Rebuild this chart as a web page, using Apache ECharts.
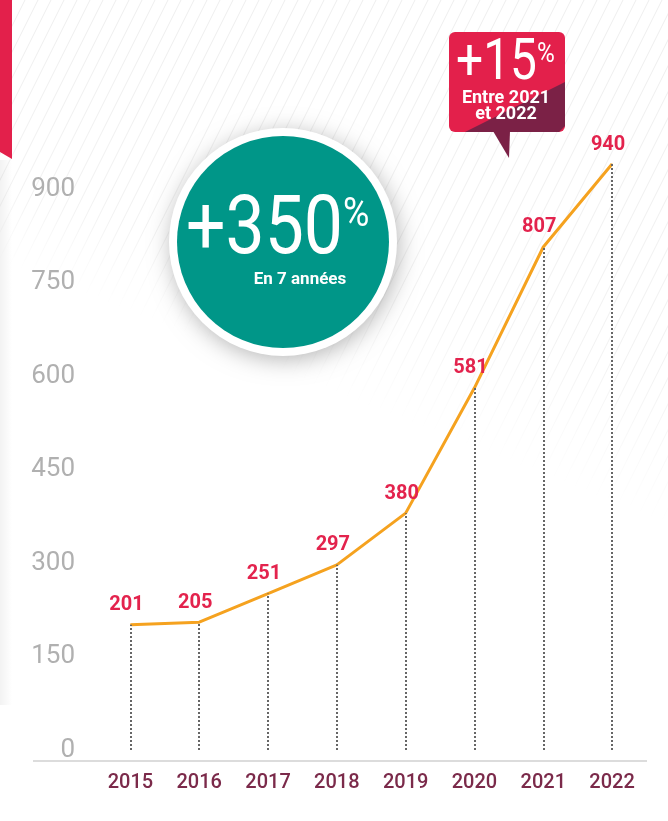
<!DOCTYPE html>
<html>
<head>
<meta charset="utf-8">
<script src="https://cdn.jsdelivr.net/npm/echarts@6/dist/echarts.min.js"></script>
<style>
  html, body { margin: 0; padding: 0; background: #ffffff; }
  #chart { width: 668px; height: 821px; }
</style>
</head>
<body>
<div id="chart"></div>
<script>
  // data
  const years = ['2015', '2016', '2017', '2018', '2019', '2020', '2021', '2022'];
  const members = [201, 205, 251, 297, 380, 581, 807, 940];
  const yTicks = [0, 150, 300, 450, 600, 750, 900];

  const dom = document.getElementById('chart');
  const myChart = echarts.init(dom);

  // diagonal hatch in the background, fading towards the lower left
  const hatch = [];
  for (let x0 = -300; x0 < 1100; x0 += 13) {
    const yb = (260 + 0.4 * x0) / 1.2;
    if (yb <= 0) continue;
    hatch.push({
      type: 'line',
      silent: true,
      z: -10,
      shape: { x1: x0, y1: 0, x2: x0 - 0.5 * yb, y2: yb },
      style: {
        lineWidth: 1,
        stroke: new echarts.graphic.LinearGradient(0, 0, 0, 1, [
          { offset: 0, color: 'rgba(0,0,0,0.07)' },
          { offset: 0.75, color: 'rgba(0,0,0,0.055)' },
          { offset: 1, color: 'rgba(0,0,0,0)' }
        ])
      }
    });
  }

  const decor = [
    // red strip top left
    {
      type: 'polygon', z: 5, silent: true,
      shape: { points: [[0, 0], [12, 0], [12, 159], [0, 152]] },
      style: { fill: '#e3204b' }
    },
    // soft shadow on the left edge
    {
      type: 'rect', z: -5, silent: true,
      shape: { x: 0, y: 160, width: 12, height: 545 },
      style: {
        fill: new echarts.graphic.LinearGradient(0, 0, 1, 0, [
          { offset: 0, color: 'rgba(0,0,0,0.05)' },
          { offset: 1, color: 'rgba(0,0,0,0)' }
        ])
      }
    },
    // x axis base line
    {
      type: 'line', z: 5, silent: true,
      shape: { x1: 33, y1: 761, x2: 647, y2: 761 },
      style: { stroke: '#dcdcdc', lineWidth: 2 }
    },
    // green circle
    {
      type: 'circle', z: 20, silent: true,
      shape: { cx: 283, cy: 242, r: 114 },
      style: { fill: '#ffffff', shadowBlur: 22, shadowColor: 'rgba(0,0,0,0.28)', shadowOffsetX: 2, shadowOffsetY: 4 }
    },
    {
      type: 'circle', z: 21, silent: true,
      shape: { cx: 283, cy: 242, r: 106 },
      style: { fill: '#009688' }
    },
    {
      type: 'text', z: 22, silent: true,
      x: 186, y: 233, scaleX: 0.86,
      style: { text: '+350', fill: '#ffffff', font: '400 81px Roboto', align: 'left', verticalAlign: 'middle' }
    },
    {
      type: 'text', z: 22, silent: true,
      x: 343, y: 216, scaleX: 0.9,
      style: { text: '%', fill: '#ffffff', font: '400 40px Roboto', align: 'left', verticalAlign: 'middle' }
    },
    {
      type: 'text', z: 22, silent: true,
      x: 300, y: 280,
      style: { text: 'En 7 années', fill: '#ffffff', font: 'bold 17px Roboto', align: 'center', verticalAlign: 'middle' }
    },
    // red callout
    {
      type: 'rect', z: 20, silent: true,
      shape: { x: 449, y: 32, width: 116, height: 100, r: 6 },
      style: { fill: '#e3204b' }
    },
    {
      type: 'polygon', z: 21, silent: true,
      shape: { points: [[465, 132], [565, 82], [565, 126], [559, 132]] },
      style: { fill: '#7b2146' }
    },
    {
      type: 'polygon', z: 21, silent: true,
      shape: { points: [[493, 131], [510, 131], [509, 158]] },
      style: { fill: '#7b2146' }
    },
    {
      type: 'text', z: 22, silent: true,
      x: 456, y: 65, scaleX: 0.84,
      style: { text: '+15', fill: '#ffffff', font: '400 57px Roboto', align: 'left', verticalAlign: 'middle' }
    },
    {
      type: 'text', z: 22, silent: true,
      x: 537, y: 55, scaleX: 0.9,
      style: { text: '%', fill: '#ffffff', font: '400 27px Roboto', align: 'left', verticalAlign: 'middle' }
    },
    {
      type: 'text', z: 22, silent: true,
      x: 506, y: 98,
      style: { text: 'Entre 2021', fill: '#ffffff', font: 'bold 18px Roboto', align: 'center', verticalAlign: 'middle' }
    },
    {
      type: 'text', z: 22, silent: true,
      x: 506, y: 114,
      style: { text: 'et 2022', fill: '#ffffff', font: 'bold 18px Roboto', align: 'center', verticalAlign: 'middle' }
    }
  ];

  myChart.setOption({
    backgroundColor: '#ffffff',
    animation: false,
    grid: {
      left: 96,
      right: 21.5,
      top: 95.5,
      bottom: 71
    },
    xAxis: {
      type: 'category',
      data: years,
      boundaryGap: true,
      axisLine: { show: false },
      axisTick: { show: false },
      axisLabel: {
        margin: 23,
        color: '#7b2a4a',
        fontSize: 20,
        fontWeight: 500,
        fontFamily: 'Roboto'
      }
    },
    yAxis: {
      type: 'value',
      min: 0,
      max: 1050,
      interval: 150,
      splitLine: { show: false },
      axisLine: { show: false },
      axisTick: { show: false },
      axisLabel: {
        margin: 21,
        color: '#b0b0b0',
        fontSize: 26,
        fontWeight: 400,
        fontFamily: 'Roboto',
        formatter: function (v) { return yTicks.indexOf(v) >= 0 ? String(v) : ''; }
      }
    },
    graphic: hatch.concat(decor),
    series: [
      {
        name: 'members',
        type: 'line',
        data: members,
        z: 3,
        symbol: 'circle',
        symbolSize: 1,
        showSymbol: true,
        itemStyle: { color: '#f5a21f' },
        lineStyle: { color: '#f5a21f', width: 3 },
        label: {
          show: true,
          position: 'top',
          distance: 9,
          offset: [-4, 0],
          color: '#e3234d',
          fontSize: 20,
          fontWeight: 'bold',
          fontFamily: 'Roboto'
        },
        markLine: {
          silent: true,
          symbol: ['none', 'none'],
          label: { show: false },
          lineStyle: { type: 'dotted', color: '#666666', width: 2 },
          data: years.map(function (y, i) {
            return [{ coord: [y, 0] }, { coord: [y, members[i]] }];
          })
        }
      }
    ]
  });
</script>
</body>
</html>
